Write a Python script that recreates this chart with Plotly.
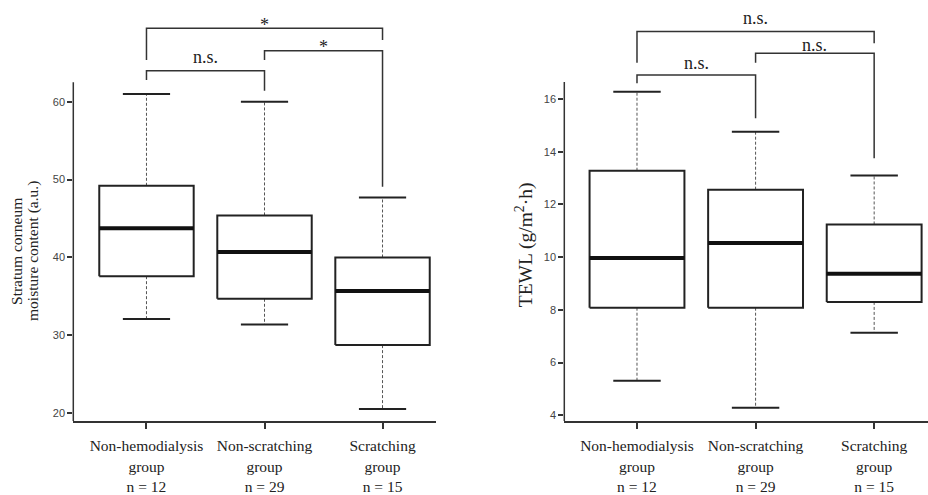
import plotly.graph_objects as go

# ---------------- data ----------------
group_names = ["Non-hemodialysis", "Non-scratching", "Scratching"]
group_n = [12, 29, 15]
tick_labels = [f"{g}<br>group<br>n = {n}" for g, n in zip(group_names, group_n)]

# Stratum corneum moisture content (a.u.)
moist_upper = [61.0, 60.0, 47.7]
moist_q3 = [49.2, 45.4, 40.0]
moist_median = [43.75, 40.7, 35.7]
moist_q1 = [37.6, 34.7, 28.75]
moist_lower = [32.1, 31.4, 20.55]

# TEWL (g/m2.h)
tewl_upper = [16.28, 14.76, 13.1]
tewl_q3 = [13.28, 12.56, 11.24]
tewl_median = [9.97, 10.54, 9.37]
tewl_q1 = [8.08, 8.08, 8.3]
tewl_lower = [5.31, 4.28, 7.13]

moist_ticks = [20, 30, 40, 50, 60]
tewl_ticks = [4, 6, 8, 10, 12, 14, 16]

# significance brackets: (from, to, level, left leg end, right leg end, label, label y)
moist_brackets = [
    (0, 2, 69.42, 65.35, 67.92, "*", 69.85),
    (1, 2, 66.55, 65.35, 49.09, "*", 67.0),
    (0, 1, 63.98, 62.79, 61.41, "n.s.", 65.75),
]
tewl_brackets = [
    (0, 2, 18.56, 17.38, 18.12, "n.s.", 19.07),
    (1, 2, 17.74, 17.38, 13.75, "n.s.", 18.05),
    (0, 1, 16.91, 16.60, 15.27, "n.s.", 17.36),
]

# ---------------- figure ----------------
W, H = 928, 495
DARK = "#222222"
SERIF = "Liberation Serif, Times New Roman, serif"
SANS = "Liberation Sans, Arial, sans-serif"

fig = go.Figure()


def add_panel(xa, ya, upper, q3, med, q1, lower):
    for i in range(len(med)):
        # whiskers (dashed)
        fig.add_trace(go.Scatter(
            x=[i, i, None, i, i], y=[q3[i], upper[i], None, q1[i], lower[i]],
            mode="lines", line=dict(color="#555555", width=1, dash="3px,2px"),
            xaxis=xa, yaxis=ya, hoverinfo="skip", showlegend=False))
        # caps
        fig.add_trace(go.Scatter(
            x=[i - 0.2, i + 0.2, None, i - 0.2, i + 0.2],
            y=[upper[i], upper[i], None, lower[i], lower[i]],
            mode="lines", line=dict(color=DARK, width=2),
            xaxis=xa, yaxis=ya, hoverinfo="skip", showlegend=False))
        # box
        fig.add_trace(go.Scatter(
            x=[i - 0.4, i + 0.4, i + 0.4, i - 0.4, i - 0.4],
            y=[q1[i], q1[i], q3[i], q3[i], q1[i]],
            mode="lines", fill="toself", fillcolor="white",
            line=dict(color=DARK, width=2),
            xaxis=xa, yaxis=ya, hoverinfo="skip", showlegend=False))
        # median
        fig.add_trace(go.Scatter(
            x=[i - 0.4, i + 0.4], y=[med[i], med[i]],
            mode="lines", line=dict(color="#111111", width=4),
            xaxis=xa, yaxis=ya, hoverinfo="skip", showlegend=False))


add_panel("x", "y", moist_upper, moist_q3, moist_median, moist_q1, moist_lower)
add_panel("x2", "y2", tewl_upper, tewl_q3, tewl_median, tewl_q1, tewl_lower)

shapes = []
annotations = []


def add_brackets(xr, yr, brackets):
    for a, b, lvl, la, lb, lab, ly in brackets:
        shapes.append(dict(
            type="path", xref=xr, yref=yr,
            path=f"M {a},{la} L {a},{lvl} L {b},{lvl} L {b},{lb}",
            line=dict(color="#333333", width=1.5)))
        annotations.append(dict(
            x=(a + b) / 2, y=ly, xref=xr, yref=yr, text=lab, showarrow=False,
            font=dict(family=SERIF, size=18, color=DARK),
            xanchor="center", yanchor="middle"))


add_brackets("x", "y", moist_brackets)
add_brackets("x2", "y2", tewl_brackets)

left_dom = [73.3 / W, 436 / W]
right_dom = [564.3 / W, 1.0]
left_range = [19.01, 73.05]
right_range = [3.78, 19.76]

# y-axis lines (stop just above the top tick)
shapes.append(dict(type="line", xref="paper", yref="y", x0=left_dom[0], x1=left_dom[0],
                   y0=left_range[0], y1=62.5, line=dict(color="#333333", width=1.5)))
shapes.append(dict(type="line", xref="paper", yref="y2", x0=right_dom[0], x1=right_dom[0],
                   y0=right_range[0], y1=16.65, line=dict(color="#333333", width=1.5)))

# y-axis titles (two separate lines on the left for tight spacing)
for txt, xp in [("Stratum corneum", 16.5), ("moisture content (a.u.)", 33.5)]:
    annotations.append(dict(
        x=xp / W, y=40.77, xref="paper", yref="y", textangle=-90, showarrow=False,
        text=txt, font=dict(family=SERIF, size=15.5, color=DARK),
        xanchor="center", yanchor="middle"))
annotations.append(dict(
    x=524 / W, y=10.45, xref="paper", yref="y2", textangle=-90, showarrow=False,
    text="TEWL (g/m<sup>2</sup>·h)",
    font=dict(family=SERIF, size=19.5, color=DARK), xanchor="center", yanchor="middle"))

xaxis_common = dict(
    tickmode="array", tickvals=[0, 1, 2], ticktext=tick_labels,
    ticks="outside", ticklen=6, tickwidth=1.5, tickcolor="#333333",
    showline=True, linecolor="#333333", linewidth=1.5,
    showgrid=False, zeroline=False, ticklabelstandoff=4,
    tickfont=dict(family=SERIF, size=15.5, color=DARK),
)
yaxis_common = dict(
    ticks="outside", ticklen=5, tickwidth=1.5, tickcolor="#333333",
    showline=False, showgrid=False, zeroline=False, domain=[0, 1],
    tickfont=dict(family=SANS, size=11, color="#444444"),
)

fig.update_layout(
    width=W, height=H,
    margin=dict(l=0, r=0, t=0, b=74),
    plot_bgcolor="white", paper_bgcolor="white",
    showlegend=False,
    xaxis=dict(domain=left_dom, range=[-0.62, 2.453], anchor="y", **xaxis_common),
    xaxis2=dict(domain=right_dom, range=[-0.613, 2.454], anchor="y2", **xaxis_common),
    yaxis=dict(range=left_range, tickmode="array", tickvals=moist_ticks, anchor="x", **yaxis_common),
    yaxis2=dict(range=right_range, tickmode="array", tickvals=tewl_ticks, anchor="x2", **yaxis_common),
    shapes=shapes,
    annotations=annotations,
)

fig.write_html("out.html")
